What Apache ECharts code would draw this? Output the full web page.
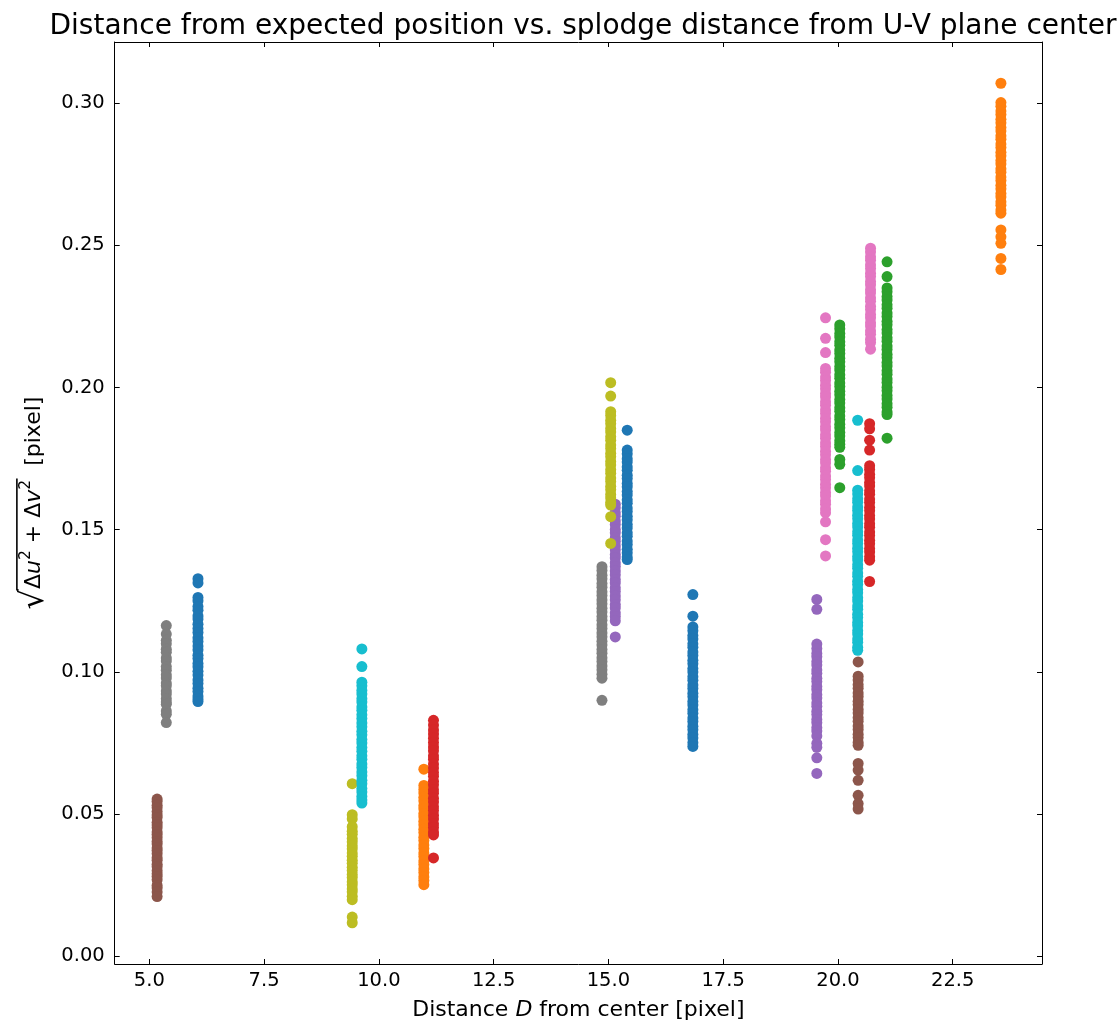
<!DOCTYPE html>
<html>
<head>
<meta charset="utf-8">
<script src="https://cdn.jsdelivr.net/npm/echarts@6/dist/echarts.min.js"></script>
<style>html,body{margin:0;padding:0;background:#fff}#c{width:1117px;height:1024px}</style>
</head>
<body>
<div id="c"></div>
<script>
// ---- data ----
const titleText = 'Distance from expected position vs. splodge distance from U-V plane center';
const xTicks = [5.0, 7.5, 10.0, 12.5, 15.0, 17.5, 20.0, 22.5];
const yTicks = [0.00, 0.05, 0.10, 0.15, 0.20, 0.25, 0.30];
const colorNames = ['blue', 'orange', 'green', 'red', 'purple', 'brown', 'pink', 'gray', 'olive', 'cyan'];
const colorHex = ['#1f77b4', '#ff7f0e', '#2ca02c', '#d62728', '#9467bd', '#8c564b', '#e377c2', '#7f7f7f', '#bcbd22', '#17becf'];

// splodge distance D of each column and its colour
const splodgeD = [5.17, 5.37, 6.06, 9.42, 9.63, 10.98, 11.19, 14.86, 15.05, 15.15, 15.41, 16.84,
                  19.54, 19.73, 20.04, 20.43, 20.44, 20.69, 20.71, 21.07, 23.55];
const splodgeColor = ['brown', 'gray', 'blue', 'olive', 'cyan', 'orange', 'red', 'gray', 'olive', 'purple', 'blue', 'blue',
                      'purple', 'pink', 'green', 'cyan', 'brown', 'red', 'pink', 'green', 'orange'];

const v01 = [0.0553, 0.0544, 0.0531, 0.0522, 0.0509, 0.0497, 0.0488, 0.0471, 0.0462, 0.0452, 0.0437, 0.0428, 0.0417, 0.0404, 0.0395, 0.0381, 0.0372, 0.0361, 0.0347, 0.0338, 0.0324, 0.0315, 0.0301, 0.0290, 0.0281, 0.0269, 0.0249, 0.0240, 0.0226, 0.0210];
const v02 = [0.1163, 0.1133, 0.1111, 0.1099, 0.1080, 0.1069, 0.1049, 0.1038, 0.1019, 0.1006, 0.0990, 0.0979, 0.0961, 0.0951, 0.0933, 0.0922, 0.0906, 0.0894, 0.0886, 0.0863, 0.0851, 0.0822];
const v03 = [0.1328, 0.1313, 0.1262, 0.1250, 0.1230, 0.1217, 0.1197, 0.1186, 0.1168, 0.1153, 0.1139, 0.1120, 0.1107, 0.1091, 0.1078, 0.1059, 0.1047, 0.1030, 0.1018, 0.1002, 0.0989, 0.0972, 0.0959, 0.0943, 0.0931, 0.0915, 0.0905, 0.0896];
const v04 = [0.0607, 0.0498, 0.0483, 0.0456, 0.0440, 0.0429, 0.0414, 0.0403, 0.0389, 0.0378, 0.0363, 0.0352, 0.0338, 0.0327, 0.0313, 0.0302, 0.0288, 0.0277, 0.0262, 0.0252, 0.0237, 0.0227, 0.0211, 0.0199, 0.0138, 0.0118];
const v05 = [0.1081, 0.1019, 0.0964, 0.0951, 0.0935, 0.0922, 0.0906, 0.0894, 0.0877, 0.0865, 0.0849, 0.0836, 0.0820, 0.0807, 0.0791, 0.0779, 0.0762, 0.0750, 0.0734, 0.0721, 0.0705, 0.0693, 0.0676, 0.0664, 0.0648, 0.0635, 0.0619, 0.0607, 0.0590, 0.0578, 0.0562, 0.0550, 0.0539];
const v06 = [0.0658, 0.0601, 0.0587, 0.0574, 0.0559, 0.0547, 0.0530, 0.0519, 0.0502, 0.0491, 0.0475, 0.0463, 0.0447, 0.0435, 0.0419, 0.0407, 0.0391, 0.0379, 0.0363, 0.0351, 0.0335, 0.0323, 0.0307, 0.0295, 0.0279, 0.0267, 0.0252];
const v07 = [0.0830, 0.0813, 0.0796, 0.0782, 0.0767, 0.0752, 0.0736, 0.0723, 0.0705, 0.0693, 0.0676, 0.0662, 0.0646, 0.0633, 0.0616, 0.0603, 0.0586, 0.0573, 0.0556, 0.0543, 0.0526, 0.0513, 0.0496, 0.0483, 0.0466, 0.0453, 0.0437, 0.0427, 0.0346];
const v08 = [0.1370, 0.1357, 0.1340, 0.1328, 0.1311, 0.1298, 0.1282, 0.1269, 0.1253, 0.1240, 0.1224, 0.1211, 0.1195, 0.1182, 0.1166, 0.1153, 0.1137, 0.1124, 0.1108, 0.1095, 0.1079, 0.1066, 0.1050, 0.1037, 0.1021, 0.1008, 0.0992, 0.0978, 0.0900];
const v09 = [0.2017, 0.1970, 0.1915, 0.1902, 0.1885, 0.1873, 0.1856, 0.1844, 0.1827, 0.1815, 0.1798, 0.1786, 0.1769, 0.1757, 0.1740, 0.1728, 0.1711, 0.1699, 0.1682, 0.1670, 0.1653, 0.1641, 0.1624, 0.1612, 0.1596, 0.1587, 0.1546, 0.1452];
const v10 = [0.1590, 0.1577, 0.1560, 0.1547, 0.1531, 0.1518, 0.1501, 0.1489, 0.1472, 0.1459, 0.1443, 0.1430, 0.1413, 0.1401, 0.1384, 0.1371, 0.1355, 0.1342, 0.1325, 0.1313, 0.1296, 0.1283, 0.1267, 0.1254, 0.1237, 0.1225, 0.1208, 0.1195, 0.1180, 0.1123];
const v11 = [0.1850, 0.1780, 0.1767, 0.1750, 0.1738, 0.1721, 0.1709, 0.1692, 0.1680, 0.1663, 0.1651, 0.1634, 0.1622, 0.1605, 0.1593, 0.1576, 0.1564, 0.1547, 0.1535, 0.1518, 0.1506, 0.1489, 0.1477, 0.1460, 0.1448, 0.1431, 0.1419, 0.1404, 0.1395];
const v12 = [0.1272, 0.1196, 0.1158, 0.1145, 0.1128, 0.1116, 0.1099, 0.1087, 0.1070, 0.1058, 0.1041, 0.1029, 0.1012, 0.1000, 0.0983, 0.0971, 0.0954, 0.0942, 0.0925, 0.0913, 0.0896, 0.0884, 0.0867, 0.0855, 0.0838, 0.0826, 0.0809, 0.0797, 0.0780, 0.0768, 0.0751, 0.0738];
const v13 = [0.1255, 0.1220, 0.1098, 0.1082, 0.1065, 0.1053, 0.1036, 0.1024, 0.1007, 0.0995, 0.0978, 0.0966, 0.0949, 0.0937, 0.0920, 0.0908, 0.0891, 0.0879, 0.0862, 0.0850, 0.0833, 0.0821, 0.0804, 0.0792, 0.0775, 0.0749, 0.0735, 0.0698, 0.0643];
const v14 = [0.2245, 0.2173, 0.2123, 0.2067, 0.2054, 0.2037, 0.2025, 0.2008, 0.1996, 0.1979, 0.1967, 0.1950, 0.1938, 0.1921, 0.1909, 0.1892, 0.1880, 0.1863, 0.1851, 0.1834, 0.1822, 0.1805, 0.1793, 0.1776, 0.1764, 0.1747, 0.1735, 0.1718, 0.1706, 0.1689, 0.1677, 0.1660, 0.1648, 0.1631, 0.1619, 0.1602, 0.1590, 0.1573, 0.1560, 0.1528, 0.1465, 0.1408];
const v15 = [0.2220, 0.2207, 0.2190, 0.2178, 0.2161, 0.2149, 0.2132, 0.2120, 0.2103, 0.2091, 0.2074, 0.2062, 0.2045, 0.2033, 0.2016, 0.2004, 0.1987, 0.1975, 0.1958, 0.1946, 0.1929, 0.1917, 0.1900, 0.1888, 0.1871, 0.1859, 0.1842, 0.1830, 0.1813, 0.1801, 0.1790, 0.1747, 0.1730, 0.1648];
const v16 = [0.1885, 0.1708, 0.1639, 0.1626, 0.1609, 0.1597, 0.1580, 0.1568, 0.1551, 0.1539, 0.1522, 0.1510, 0.1493, 0.1481, 0.1464, 0.1452, 0.1435, 0.1423, 0.1406, 0.1394, 0.1377, 0.1365, 0.1348, 0.1336, 0.1319, 0.1307, 0.1290, 0.1278, 0.1261, 0.1249, 0.1232, 0.1220, 0.1203, 0.1191, 0.1174, 0.1162, 0.1145, 0.1133, 0.1116, 0.1104, 0.1087, 0.1076];
const v17 = [0.1035, 0.0985, 0.0972, 0.0955, 0.0943, 0.0926, 0.0914, 0.0897, 0.0885, 0.0868, 0.0856, 0.0839, 0.0827, 0.0810, 0.0798, 0.0781, 0.0769, 0.0752, 0.0742, 0.0678, 0.0655, 0.0619, 0.0566, 0.0537, 0.0518];
const v18 = [0.1873, 0.1855, 0.1815, 0.1780, 0.1725, 0.1712, 0.1695, 0.1683, 0.1666, 0.1654, 0.1637, 0.1625, 0.1608, 0.1596, 0.1579, 0.1567, 0.1550, 0.1538, 0.1521, 0.1509, 0.1492, 0.1480, 0.1463, 0.1451, 0.1434, 0.1422, 0.1405, 0.1393, 0.1318];
const v19 = [0.2490, 0.2477, 0.2460, 0.2448, 0.2431, 0.2419, 0.2402, 0.2390, 0.2373, 0.2361, 0.2344, 0.2332, 0.2315, 0.2303, 0.2286, 0.2274, 0.2257, 0.2245, 0.2228, 0.2216, 0.2199, 0.2187, 0.2170, 0.2158, 0.2135];
const v20 = [0.2442, 0.2390, 0.2350, 0.2337, 0.2320, 0.2308, 0.2291, 0.2279, 0.2262, 0.2250, 0.2233, 0.2221, 0.2204, 0.2192, 0.2175, 0.2163, 0.2146, 0.2134, 0.2117, 0.2105, 0.2088, 0.2076, 0.2059, 0.2047, 0.2030, 0.2018, 0.2001, 0.1989, 0.1972, 0.1960, 0.1943, 0.1931, 0.1914, 0.1905, 0.1822];
const v21 = [0.3070, 0.3002, 0.2989, 0.2972, 0.2960, 0.2943, 0.2931, 0.2914, 0.2902, 0.2885, 0.2873, 0.2856, 0.2844, 0.2827, 0.2815, 0.2798, 0.2786, 0.2769, 0.2757, 0.2740, 0.2728, 0.2711, 0.2699, 0.2682, 0.2670, 0.2653, 0.2641, 0.2624, 0.2613, 0.2554, 0.2530, 0.2507, 0.2454, 0.2415];
const splodgeValues = [v01, v02, v03, v04, v05, v06, v07, v08, v09, v10, v11, v12, v13, v14, v15, v16, v17, v18, v19, v20, v21];

// ---- chart ----
const FONT = 'DejaVu Sans';
const series = colorNames.map((name, ci) => {
  const data = [];
  splodgeD.forEach((d, k) => {
    if (splodgeColor[k] === name) splodgeValues[k].forEach(v => data.push([d, v]));
  });
  return {
    type: 'scatter', name: name, xAxisIndex: 0, yAxisIndex: 0,
    data: data, symbol: 'circle', symbolSize: 11,
    itemStyle: { color: colorHex[ci], opacity: 1 },
    emphasis: { disabled: true }, animation: false
  };
});

const X_MIN = 4.246, X_MAX = 24.445, Y_MIN = -0.0027, Y_MAX = 0.3215;
const lineStyle = { color: '#000', width: 1 };
const tickStyle = { lineStyle: { color: '#000', width: 1 }, inside: true, length: 5 };
const LH = 32;

const chart = echarts.init(document.getElementById('c'), null, { renderer: 'canvas' });
chart.setOption({
  backgroundColor: '#fff',
  animation: false,
  textStyle: { fontFamily: FONT },
  title: {
    text: titleText, left: 578, textAlign: 'center', top: 8,
    textStyle: { fontFamily: FONT, fontSize: 28, fontWeight: 'normal', color: '#000' }
  },
  grid: { left: 114.7, right: 75, top: 42, bottom: 60, containLabel: false, outerBoundsMode: 'none' },
  xAxis: [{
    type: 'value', min: X_MIN, max: X_MAX, position: 'bottom',
    name: 'Distance {i|D} from center [pixel]', nameLocation: 'middle', nameGap: 35,
    nameTextStyle: { fontFamily: FONT, fontSize: 22, color: '#000',
      rich: { i: { fontFamily: FONT, fontSize: 22, fontStyle: 'italic', color: '#000' } } },
    axisLine: { show: true, onZero: false, lineStyle },
    axisTick: Object.assign({ show: true, customValues: xTicks }, tickStyle),
    axisLabel: { show: true, customValues: xTicks, formatter: v => v.toFixed(1), fontFamily: FONT, fontSize: 19.5, color: '#000', margin: 7 },
    splitLine: { show: false }
  }, {
    type: 'value', min: X_MIN, max: X_MAX, position: 'top',
    axisLine: { show: true, onZero: false, lineStyle },
    axisTick: Object.assign({ show: true, customValues: xTicks }, tickStyle),
    axisLabel: { show: false }, splitLine: { show: false }
  }],
  yAxis: [{
    type: 'value', min: Y_MIN, max: Y_MAX, position: 'left',
    name: '{sp| }{bar| }\n{r|√}{t|Δ}{i|u}{s|2}{t| + Δ}{i|v}{s|2}{t|  [pixel]}', nameLocation: 'middle', nameGap: 58, nameRotate: 90,
    nameTextStyle: { fontFamily: FONT, fontSize: 22, color: '#000',
      rich: {
        sp: { align: 'left', width: 19, height: 2, lineHeight: 3, fontSize: 2 },
        bar: { align: 'left', width: 112, height: 1.6, lineHeight: 3, fontSize: 2, backgroundColor: '#000' },
        r: { align: 'left', fontFamily: FONT, fontSize: 32, lineHeight: LH, color: '#000' },
        t: { align: 'left', fontFamily: FONT, fontSize: 22, lineHeight: LH, color: '#000' },
        i: { align: 'left', fontFamily: FONT, fontSize: 22, lineHeight: LH, fontStyle: 'italic', color: '#000' },
        s: { align: 'left', fontFamily: FONT, fontSize: 15.5, lineHeight: 20, verticalAlign: 'top', color: '#000' }
      } },
    axisLine: { show: true, onZero: false, lineStyle },
    axisTick: Object.assign({ show: true, customValues: yTicks }, tickStyle),
    axisLabel: { show: true, customValues: yTicks, formatter: v => v.toFixed(2), fontFamily: FONT, fontSize: 19.5, color: '#000', margin: 10 },
    splitLine: { show: false }
  }, {
    type: 'value', min: Y_MIN, max: Y_MAX, position: 'right',
    axisLine: { show: true, onZero: false, lineStyle },
    axisTick: Object.assign({ show: true, customValues: yTicks }, tickStyle),
    axisLabel: { show: false }, splitLine: { show: false }
  }],
  series: series
});
</script>
</body>
</html>
